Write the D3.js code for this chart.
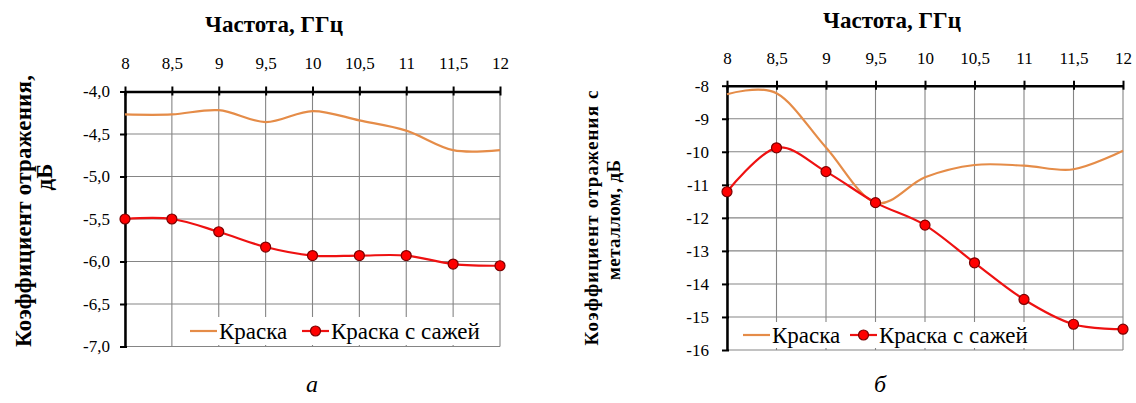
<!DOCTYPE html>
<html>
<head>
<meta charset="utf-8">
<script src="https://cdn.jsdelivr.net/npm/d3@7"></script>
<style>
  html, body { margin: 0; padding: 0; background: #fff; }
  svg { display: block; }
  svg text { fill: #000; }
</style>
</head>
<body>
<svg id="chart" width="1136" height="403"></svg>
<script>
// Frequencies, GHz
const frequencies = [8, 8.5, 9, 9.5, 10, 10.5, 11, 11.5, 12];
const freqTickLabels = ["8", "8,5", "9", "9,5", "10", "10,5", "11", "11,5", "12"];

// Panel a: reflection coefficient, dB
const paintA = [-4.27, -4.27, -4.22, -4.36, -4.23, -4.34, -4.46, -4.69, -4.69];
const paintSootA = [-5.50, -5.50, -5.65, -5.83, -5.93, -5.93, -5.93, -6.03, -6.05];
const yTicksA = [-4.0, -4.5, -5.0, -5.5, -6.0, -6.5, -7.0];

// Panel b: reflection coefficient with metal backing, dB
const paintB = [-8.26, -8.23, -9.87, -11.54, -10.77, -10.40, -10.42, -10.53, -9.97];
const paintSootB = [-11.21, -9.88, -10.60, -11.54, -12.22, -13.36, -14.47, -15.22, -15.37];
const yTicksB = [-8, -9, -10, -11, -12, -13, -14, -15, -16];

const seriesNames = ["Краска", "Краска с сажей"];
const colorPaint = "#e58c48";
const colorSoot = "#ee1111";
const FONT = '"Liberation Serif", "Noto Serif", "DejaVu Serif", "Times New Roman", Times, serif';

const svg = d3.select("#chart").attr("font-family", FONT);

function drawPanel(cfg) {
  const g = svg.append("g");
  const x = d3.scaleLinear().domain([8, 12]).range([cfg.left, cfg.right]);
  const y = d3.scaleLinear().domain([cfg.yTicks[0], cfg.yTicks[cfg.yTicks.length - 1]])
    .range([cfg.top, cfg.bottom]);

  // grid
  g.append("g").selectAll("line.v").data(frequencies).join("line")
    .attr("x1", d => x(d)).attr("x2", d => x(d))
    .attr("y1", cfg.top).attr("y2", cfg.bottom)
    .attr("stroke", "#858585").attr("stroke-width", 1.1);
  g.append("g").selectAll("line.h").data(cfg.yTicks).join("line")
    .attr("x1", cfg.left).attr("x2", cfg.right)
    .attr("y1", d => y(d)).attr("y2", d => y(d))
    .attr("stroke", "#858585").attr("stroke-width", 1.1);

  // axes (top & left)
  const xAxis = d3.axisTop(x).tickValues(frequencies)
    .tickFormat((d, i) => freqTickLabels[i]).tickSizeInner(5).tickSizeOuter(0).tickPadding(cfg.xPad);
  const gx = g.append("g").attr("transform", `translate(0,${cfg.top})`).call(xAxis)
    .attr("font-family", FONT);
  gx.select(".domain").attr("stroke", "#000").attr("stroke-width", 2.5);
  gx.selectAll(".tick line").attr("stroke", "#000").attr("stroke-width", 2)
    .attr("y1", 4).attr("y2", -5);
  gx.selectAll(".tick text").attr("font-size", cfg.tickFont).attr("fill", "#000");

  const yAxis = d3.axisLeft(y).tickValues(cfg.yTicks)
    .tickFormat(cfg.yFormat).tickSizeInner(5).tickSizeOuter(0).tickPadding(cfg.yPad);
  const gy = g.append("g").attr("transform", `translate(${cfg.left},0)`).call(yAxis)
    .attr("font-family", FONT);
  gy.select(".domain").attr("stroke", "#000").attr("stroke-width", 2.5);
  gy.selectAll(".tick line").attr("stroke", "#000").attr("stroke-width", 2)
    .attr("x1", 2).attr("x2", -5);
  gy.selectAll(".tick text").attr("font-size", cfg.tickFont).attr("fill", "#000");

  // legend box (drawn before lines so lines pass over it)
  g.append("rect")
    .attr("x", cfg.legend.x).attr("y", cfg.legend.y)
    .attr("width", cfg.legend.w).attr("height", cfg.legend.h)
    .attr("fill", "#fff");

  const curve = d3.curveCardinal.tension(0);
  const line = d3.line().x((d, i) => x(frequencies[i])).y(d => y(d)).curve(curve);

  g.append("path").datum(cfg.paint).attr("d", line)
    .attr("fill", "none").attr("stroke", colorPaint).attr("stroke-width", 2.2);
  g.append("path").datum(cfg.soot).attr("d", line)
    .attr("fill", "none").attr("stroke", colorSoot).attr("stroke-width", 2.2);
  g.append("g").selectAll("circle").data(cfg.soot).join("circle")
    .attr("cx", (d, i) => x(frequencies[i])).attr("cy", d => y(d)).attr("r", 5)
    .attr("fill", "#ff0000").attr("stroke", "#7a0000").attr("stroke-width", 1.2);

  // legend entries
  const ly = cfg.legend.y + cfg.legend.h / 2;
  const l0 = cfg.legend.x + 4;
  g.append("line").attr("x1", l0).attr("x2", l0 + 27).attr("y1", ly).attr("y2", ly)
    .attr("stroke", colorPaint).attr("stroke-width", 2.2);
  g.append("text").attr("x", l0 + 29).attr("y", ly + 7.5)
    .attr("font-size", cfg.legendFont).text(seriesNames[0]);
  const l1 = cfg.legend.x + cfg.legend.gap;
  g.append("line").attr("x1", l1).attr("x2", l1 + 27).attr("y1", ly).attr("y2", ly)
    .attr("stroke", colorSoot).attr("stroke-width", 2.2);
  g.append("circle").attr("cx", l1 + 13.5).attr("cy", ly).attr("r", 5)
    .attr("fill", "#ff0000").attr("stroke", "#7a0000").attr("stroke-width", 1.2);
  g.append("text").attr("x", l1 + 29).attr("y", ly + 7.5)
    .attr("font-size", cfg.legendFont).text(seriesNames[1]);

  // x axis title
  g.append("text").attr("x", cfg.titleX).attr("y", cfg.titleY)
    .attr("text-anchor", "middle").attr("font-weight", "bold")
    .attr("font-size", cfg.titleFont).text("Частота, ГГц");

  // y axis title (rotated, possibly two lines)
  cfg.yTitle.forEach(t => {
    const txt = g.append("text")
      .attr("transform", `translate(${t.x},${t.y}) rotate(-90)`)
      .attr("text-anchor", "middle").attr("font-weight", "bold")
      .attr("font-size", cfg.yTitleFont).text(t.text);
    if (t.len) txt.attr("textLength", t.len).attr("lengthAdjust", "spacing");
  });

  // panel caption
  g.append("text").attr("x", cfg.caption.x).attr("y", cfg.caption.y)
    .attr("text-anchor", "middle").attr("font-style", "italic")
    .attr("font-size", 24).text(cfg.caption.text);
}

drawPanel({
  left: 125, right: 500, top: 91.5, bottom: 346.5,
  yTicks: yTicksA, yFormat: d => d3.format(".1f")(d).replace(".", ",").replace("−", "-"),
  paint: paintA, soot: paintSootA,
  tickFont: 17, legendFont: 23, titleFont: 23, yTitleFont: 23, xPad: 18, yPad: 10,
  titleX: 274, titleY: 32,
  yTitle: [
    { x: 31, y: 211, text: "Коэффициент отражения,", len: 272 },
    { x: 52, y: 177, text: "дБ" }
  ],
  legend: { x: 186, y: 317, w: 312, h: 28, gap: 116 },
  caption: { x: 312, y: 392, text: "а" }
});

drawPanel({
  left: 727, right: 1123, top: 85.7, bottom: 350,
  yTicks: yTicksB, yFormat: d => String(d),
  paint: paintB, soot: paintSootB,
  tickFont: 17, legendFont: 23, titleFont: 23, yTitleFont: 19, xPad: 17, yPad: 13,
  titleX: 892, titleY: 28,
  yTitle: [
    { x: 598, y: 218, text: "Коэффициент отражения с", len: 255 },
    { x: 620, y: 220, text: "металлом, дБ", len: 120 }
  ],
  legend: { x: 739, y: 322, w: 300, h: 26, gap: 111 },
  caption: { x: 880, y: 392, text: "б" }
});
</script>
</body>
</html>
